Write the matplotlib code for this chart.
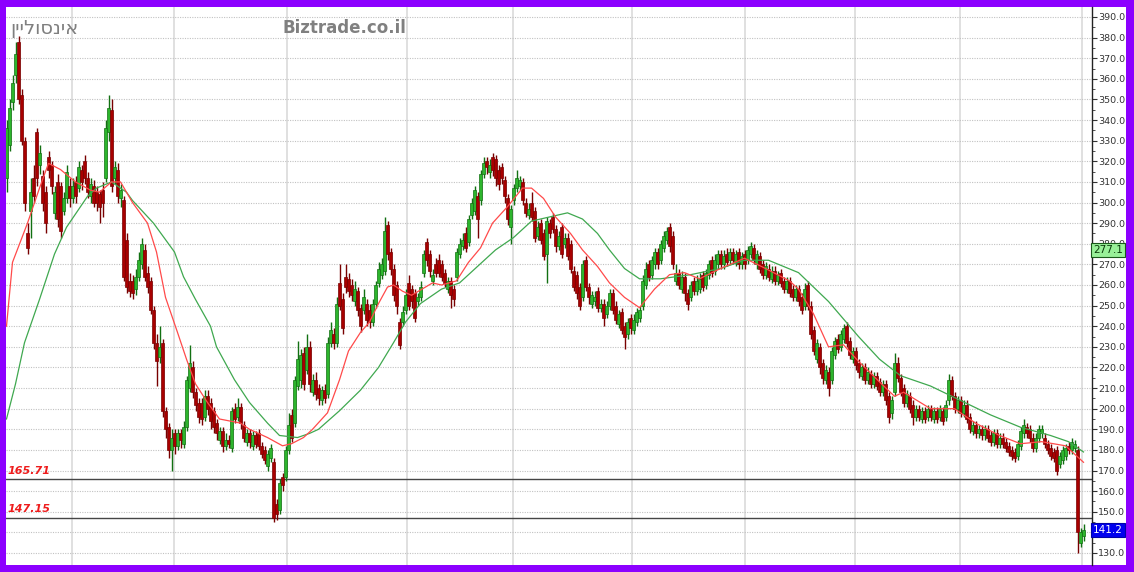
import matplotlib
matplotlib.use('Agg')
import matplotlib.pyplot as plt
import matplotlib.transforms as mtrans
from matplotlib.patches import Rectangle
import numpy as np

# ---------------- data ----------------
opens = [
312,328,349,362,378,352,330,285,296,312,
334,318,313,305,322,318,295,310,308,296,
302,308,302,310,307,316,320,312,303,308,
305,304,306,312,334,345,312,316,302,301,
282,262,262,258,264,270,277,266,262,248,
232,225,232,199,191,180,188,182,188,183,
191,210,220,208,203,203,196,206,203,199,
193,185,189,182,185,181,200,196,201,192,
184,188,182,187,188,182,180,172,176,174,
154,151,167,167,180,197,193,211,214,227,
219,230,208,214,210,204,209,207,232,236,
232,261,253,264,263,260,252,257,249,248,
251,248,242,251,261,265,267,289,276,268,
260,242,242,248,261,258,256,252,254,266,
281,275,262,270,272,270,266,258,262,258,
264,275,279,285,281,294,296,303,301,314,
320,315,322,321,316,317,311,302,288,301,
307,308,310,300,294,300,296,284,290,285,
275,290,293,287,279,288,280,283,280,267,
265,259,254,272,259,251,252,257,249,251,
246,250,256,250,241,247,240,236,244,238,
242,244,250,260,270,265,270,276,272,278,
282,288,284,262,266,258,264,256,254,262,
257,258,265,260,265,272,267,270,275,270,
275,272,276,271,276,270,275,272,275,278,
270,274,270,265,268,263,267,262,266,262,
258,262,258,254,258,254,250,260,250,238,
224,230,222,214,218,214,226,234,230,234,
240,233,224,228,222,216,220,214,217,212,
216,213,208,212,206,198,208,222,215,210,
203,206,202,196,200,195,199,196,200,195,
199,196,199,196,204,214,206,200,204,198,
202,196,189,192,188,190,187,190,187,184,
188,183,186,184,182,180,179,177,182,188,
191,190,186,181,186,188,186,183,181,179,
180,173,175,177,182,180,181,180,135,138,
]
closes = [
336,346,358,372,350,330,300,278,305,303,
312,324,300,290,316,308,305,292,286,302,
315,302,308,303,317,310,312,305,309,300,
300,298,300,336,346,308,317,303,306,264,
259,257,256,264,272,280,264,259,248,232,
223,230,199,190,180,186,182,188,185,191,
214,222,208,202,196,195,206,200,194,191,
188,189,182,185,183,199,195,201,193,186,
188,184,187,183,182,178,175,178,181,147,
149,164,163,180,192,186,214,224,226,212,
230,212,214,207,205,209,205,232,238,232,
251,250,239,259,257,255,258,248,240,254,
243,242,251,260,268,270,286,275,268,255,
250,231,247,255,250,252,244,254,259,275,
272,267,265,266,266,264,261,262,255,253,
276,280,282,278,292,300,306,292,314,319,
317,318,316,312,309,312,303,292,297,307,
312,311,301,295,297,293,283,288,282,274,
291,285,287,279,284,275,283,274,268,259,
256,250,270,259,254,255,254,249,251,244,
250,256,248,243,246,238,235,242,239,243,
247,248,262,268,264,272,276,270,280,284,
286,279,270,266,260,264,256,251,260,257,
262,263,259,266,270,266,272,275,270,274,
271,276,272,275,270,274,270,277,279,272,
275,268,265,269,264,267,262,265,261,258,
262,256,254,258,252,248,258,250,236,228,
232,220,215,219,210,228,233,229,236,239,
232,226,228,221,218,220,214,218,212,216,
211,208,212,204,196,204,222,215,208,203,
207,200,196,200,196,199,195,200,196,199,
195,200,194,202,214,206,200,204,198,202,
195,190,192,188,190,187,190,186,184,188,
183,186,183,181,179,177,176,183,189,192,
188,186,181,186,190,190,183,180,177,176,
170,177,180,181,180,184,183,140,140,141.2,
]
highs = [
340,350,362,378,381,355,332,290,312,318,
336,328,316,308,325,320,308,314,310,305,
318,312,312,313,320,318,323,315,312,311,
308,306,310,340,352,350,320,319,309,303,
285,266,265,268,276,283,280,269,264,250,
236,240,234,201,193,190,190,190,190,194,
216,231,223,210,205,205,209,209,205,201,
195,191,191,188,187,201,203,205,203,194,
190,190,189,189,190,184,182,180,183,176,
156,166,169,182,198,200,216,233,229,230,
236,233,217,218,212,211,212,235,242,239,
254,270,256,270,266,263,262,259,251,258,
253,251,253,262,271,273,293,291,278,270,
262,244,250,258,265,260,258,256,262,277,
283,277,268,273,275,272,268,264,264,260,
278,283,285,288,294,302,308,305,316,322,
322,321,324,323,318,319,313,304,299,309,
316,313,312,302,300,305,298,291,292,287,
293,292,295,289,286,290,285,285,282,269,
267,261,272,274,261,257,257,259,253,253,
252,258,258,252,248,249,242,244,246,246,
249,250,265,271,272,274,278,278,282,286,
288,290,286,270,268,267,266,258,262,264,
265,266,267,268,272,274,275,277,277,277,
278,278,278,277,278,276,277,279,281,280,
277,276,272,271,270,269,269,267,268,264,
264,264,260,260,260,256,261,262,252,240,
234,232,224,221,220,230,235,236,238,241,
242,235,230,230,224,222,222,220,219,218,
218,215,214,214,208,206,227,225,217,212,
209,208,204,202,202,201,201,202,202,201,
201,202,201,204,217,216,208,206,206,204,
204,198,194,194,192,192,192,192,189,190,
190,188,188,186,184,182,181,185,191,195,
193,192,188,188,192,192,188,185,183,181,
182,179,182,183,184,186,185,182,142,144,
]
lows = [
305,325,345,358,348,328,296,275,283,300,
308,314,296,285,312,304,292,288,283,294,
300,298,300,300,305,306,309,302,300,298,
296,290,293,310,330,305,309,300,298,262,
256,254,253,255,262,268,262,256,246,229,
211,222,196,186,176,170,178,180,181,181,
189,208,205,199,193,192,194,197,190,188,
185,183,179,180,181,179,193,194,190,184,
182,181,180,181,180,176,173,170,174,145,
146,149,160,165,178,184,191,209,210,209,
217,208,206,204,202,202,203,205,230,229,
230,248,236,256,254,252,250,245,237,246,
240,239,240,249,259,263,265,272,265,252,
246,229,240,246,248,249,242,250,252,264,
269,264,260,264,264,262,259,256,249,250,
262,273,277,276,279,292,294,283,299,312,
314,312,313,308,306,309,300,289,280,299,
305,306,299,293,292,291,281,282,280,272,
261,283,285,276,277,273,278,272,266,257,
253,248,252,257,251,249,250,247,247,240,
244,248,246,241,239,236,229,234,236,236,
240,242,248,258,262,263,268,268,270,276,
280,276,268,260,258,256,252,248,252,255,
255,256,257,258,263,264,265,268,268,268,
269,270,270,269,268,268,268,270,273,270,
268,266,263,263,262,261,260,260,259,256,
256,254,252,252,250,246,248,248,234,226,
222,217,212,212,206,212,224,227,228,232,
230,224,222,219,215,214,212,212,210,210,
209,206,206,202,193,195,206,213,206,201,
201,198,192,194,194,193,193,194,194,193,
193,194,192,194,202,204,198,198,196,196,
193,188,187,186,186,185,185,184,182,182,
181,181,181,179,177,175,174,175,180,186,
186,184,179,179,184,186,181,178,175,174,
168,171,173,175,178,178,179,130,133,136,
]

# moving-average lines (bar number, value)
fast_ma_bar = [0,2,7,11,14,18,23,28,31,35,38,42,47,50,53,57,60,63,67,71,78,81,87,92,95,99,
               102,107,111,114,118,121,124,127,129,132,135,142,145,150,154,158,162,167,172,
               175,179,183,188,192,197,201,206,211,216,221,226,231,238,246,253,261,264,269,
               274,279,284,291,296,299,308,316,323,331,338,345,353,359]
fast_ma_val = [240,271,290,307,319,316,310,306,305,310,310,300,290,276,254,237,224,212,203,195,193,190,186,182,183,186,
               190,198,214,228,237,242,251,259,260,257,255,261,260,262,271,278,290,298,307,
               307,302,293,285,277,269,261,254,249,258,265,266,263,268,273,268,262,258,246,
               230,231,223,213,206,208,200,200,193,187,183,184,182,174]
slow_ma_bar = [0,3,6,11,16,20,27,30,35,40,42,49,56,59,63,68,70,76,81,87,91,97,101,104,111,118,
               124,129,133,138,145,151,157,163,169,175,181,187,192,197,201,206,211,218,228,
               238,246,254,264,274,284,291,298,308,318,328,338,348,354,359]
slow_ma_val = [195,212,232,253,275,288,303,307,310,305,301,290,276,264,253,240,230,214,203,193,187,186,188,190,199,209,
               220,232,242,251,258,261,269,277,283,291,293,295,292,285,277,268,263,263,265,
               268,272,272,266,252,235,224,216,211,204,197,191,187,184,179]

levels = [165.71, 147.15]
y_ticks = list(range(130, 391, 10))
title_he = "אינסוליין"
site = "Biztrade.co.il"
box_green = 277.1
box_blue = 141.2
month_bars = [21.8, 55.8, 93.5, 133.5, 168.8, 208.5, 246.2, 282.8, 317.8, 358.5]

# ---------------- figure ----------------
W, H = 1134, 572
plt.rcParams['font.family'] = ['DejaVu Sans']
fig = plt.figure(figsize=(W / 100, H / 100), dpi=100)
fig.patch.set_facecolor('#8c00ff')
fig.patches.append(Rectangle((6 / W, 1 - 565 / H), (1126 - 6) / W, (565 - 7) / H,
                             transform=fig.transFigure, facecolor='white',
                             edgecolor='none', zorder=-10))

ax = fig.add_axes([6 / W, 1 - 565 / H, (1092 - 6) / W, (565 - 7) / H])
ax.set_zorder(1)
ax.set_facecolor('white')

o = np.array(opens, float); c = np.array(closes, float)
h = np.array(highs, float); l = np.array(lows, float)
idx = np.arange(len(c))
up = c >= o
body_col = np.where(up, '#2db52d', '#a80000')
edge_col = np.where(up, '#127012', '#780000')

ax.vlines(idx, l, h, colors=edge_col, lw=1.0, zorder=3)
ax.bar(idx, np.maximum(np.abs(c - o), 0.4), bottom=np.minimum(o, c), width=0.82,
       color=body_col, edgecolor=edge_col, lw=0.5, zorder=4)

ax.plot(slow_ma_bar, slow_ma_val, color='#3fa84f', lw=0.9, zorder=5)
ax.plot(fast_ma_bar, fast_ma_val, color='#ff4a4a', lw=0.9, zorder=5)

yt = mtrans.blended_transform_factory(ax.transAxes, ax.transData)
for lv in levels:
    ax.axhline(lv, color='#454545', lw=1.0, zorder=2)
    ax.text(0.001, lv + 1.8, f"{lv:.2f}", transform=yt, color='#ee1c1c',
            fontsize=8, fontweight='bold', fontstyle='italic', va='bottom', ha='left', zorder=6)

# axes
ax.set_xlim((6 - 6.5) / 3, (1092 - 6.5) / 3)
ax.set_ylim(390 - (565 - 17) / 2.0615, 390 + (17 - 7) / 2.0615)
ax.yaxis.tick_right()
ax.set_yticks(y_ticks)
ax.set_yticklabels([f"{v:.1f}" for v in y_ticks])
ax.set_yticks([v + 5 for v in y_ticks[:-1]], minor=True)
ax.tick_params(axis='y', which='major', length=3.5, width=0.8, color='#333333',
               labelsize=6.8, labelcolor='#333333', pad=1.0)
ax.tick_params(axis='y', which='minor', length=2, width=0.6, color='#333333')
ax.set_xticks(month_bars)
ax.tick_params(axis='x', length=0, labelbottom=False)
ax.grid(axis='y', which='major', linestyle=(0, (1, 1.2)), color='#c2c2c2', lw=0.8, zorder=1)
ax.grid(axis='x', linestyle='-', color='#dadada', lw=1.2, zorder=1)
ax.set_axisbelow(True)
for s in ['left', 'top', 'bottom']:
    ax.spines[s].set_visible(False)
ax.spines['right'].set_color('#222222')
ax.spines['right'].set_linewidth(1.0)

# price boxes
ax.text(1.0012, box_green, f"{box_green:.1f}", transform=yt, fontsize=7.5, color='#0a3a0a',
        va='center', ha='left', zorder=10, clip_on=False,
        bbox=dict(boxstyle='square,pad=0.18', facecolor='#98f098', edgecolor='#1a5a1a', lw=0.8))
ax.text(1.0012, box_blue, f"{box_blue:.1f}", transform=yt, fontsize=7.5, color='white',
        va='center', ha='left', zorder=10, clip_on=False,
        bbox=dict(boxstyle='square,pad=0.18', facecolor='#0000ee', edgecolor='#0000aa', lw=0.8))

# header texts
fig.text(10 / W, 1 - 29 / H, ''.join(reversed(title_he)), fontsize=14, color='#7f7f7f',
         va='center', ha='left', zorder=20)
fig.text(282 / W, 1 - 28 / H, site, fontsize=12, fontweight='bold', color='#808080',
         va='center', ha='left', zorder=20)

fig.savefig('out.png', dpi=100, facecolor=fig.get_facecolor())
